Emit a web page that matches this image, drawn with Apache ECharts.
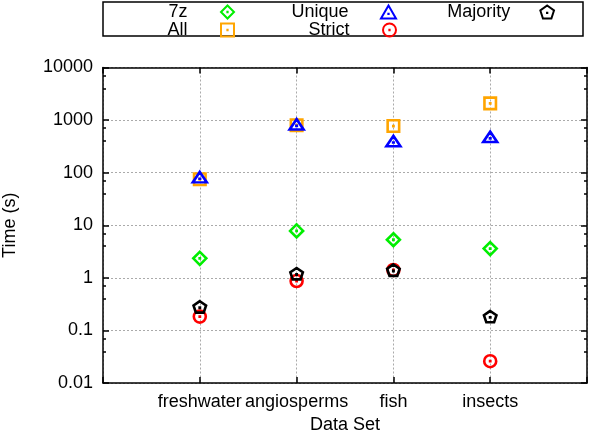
<!DOCTYPE html>
<html>
<head>
<meta charset="utf-8">
<script src="https://cdn.jsdelivr.net/npm/echarts@6/dist/echarts.min.js"></script>
<style>html,body{margin:0;padding:0;background:#fff}#c{width:600px;height:440px}</style>
</head>
<body>
<div id="c"></div>
<script>
// ---- data ----
const categories = ['freshwater', 'angiosperms', 'fish', 'insects'];
const yTicks = [0.01, 0.1, 1, 10, 100, 1000, 10000];
const seriesNames = ['7z', 'All', 'Unique', 'Strict', 'Majority'];
const time7z = [2.35, 7.8, 5.3, 3.6];
const timeAll = [75, 800, 770, 2080];
const timeUnique = [82, 830, 400, 480];
const timeStrict = [0.183, 0.87, 1.41, 0.026];
const timeMajority = [0.28, 1.2, 1.4, 0.183];

// ---- styles ----
const FONT = '"Liberation Sans", Arial, Helvetica, sans-serif';
const FS = 18;
const DOT = ' M4.9,4.9h0.2v0.2h-0.2Z';
const SYM = {
  diamond: 'path://M5,0L10,5L5,10L0,5Z' + DOT,
  square: 'path://M0,0H10V10H0Z' + DOT,
  triangle: 'path://M5,0L10,8.66L0,8.66Z M4.9,5.5h0.2v0.2h-0.2Z',
  circle: 'path://M0,5A5,5 0 1,0 10,5A5,5 0 1,0 0,5Z' + DOT,
  pentagon: 'path://M5,0L9.755,3.455L7.939,9.045L2.061,9.045L0.245,3.455Z M4.9,5.1h0.2v0.2h-0.2Z'
};

function pts(arr) { return arr.map((v, i) => [i + 1, v]); }
function mk(name, arr, color, sym, size) {
  return {
    name: name, type: 'scatter', data: pts(arr),
    symbol: sym, symbolSize: size, symbolKeepAspect: true,
    itemStyle: { color: 'rgba(0,0,0,0)', borderColor: color, borderWidth: 2.6, opacity: 1 },
    emphasis: { disabled: true }
  };
}

const series = [
  mk(seriesNames[0], time7z, '#00ee00', SYM.diamond, [13, 13]),
  mk(seriesNames[1], timeAll, '#ffa500', SYM.square, [11.5, 11.5]),
  mk(seriesNames[2], timeUnique, '#0000ff', SYM.triangle, [14, 12]),
  mk(seriesNames[3], timeStrict, '#ff0000', SYM.circle, [12, 12]),
  mk(seriesNames[4], timeMajority, '#000000', SYM.pentagon, [12.5, 12])
];

function leg(name, right, top, w) {
  return {
    data: [name], right: right, top: top, padding: 0, align: 'right',
    itemWidth: w, itemHeight: 13, selectedMode: false,
    textStyle: { fontFamily: FONT, fontSize: FS, color: '#000' }
  };
}

const axisTxt = { fontFamily: FONT, fontSize: FS, color: '#000' };
const gridLine = { show: true, lineStyle: { color: '#aaaaaa', type: [2, 2], width: 1 } };

const option = {
  animation: false,
  backgroundColor: '#fff',
  grid: { left: 103, right: 13, top: 67.5, bottom: 57, containLabel: false, outerBoundsMode: 'none' },
  legend: [
    leg(seriesNames[0], 365, 3, 70),
    leg(seriesNames[1], 365, 21, 70),
    leg(seriesNames[2], 203, 3, 70),
    leg(seriesNames[3], 203, 21, 70),
    leg(seriesNames[4], 45, 3, 64)
  ],
  graphic: [{
    type: 'rect', shape: { x: 103, y: 2, width: 480, height: 34 },
    style: { fill: 'none', stroke: '#000', lineWidth: 1.5 }, z: 0, silent: true
  }],
  xAxis: [{
    type: 'value', min: 0, max: 5, interval: 1, position: 'bottom',
    name: 'Data Set', nameLocation: 'middle', nameGap: 31,
    nameTextStyle: Object.assign({}, axisTxt),
    axisLine: { show: true, onZero: false, lineStyle: { color: '#000', width: 1.5 } },
    axisTick: { show: true, inside: true, length: 6, lineStyle: { color: '#000', width: 1.5 } },
    axisLabel: Object.assign({ margin: 10, showMinLabel: true, showMaxLabel: true,
      formatter: v => (v >= 1 && v <= categories.length) ? categories[v - 1] : '' }, axisTxt),
    splitLine: gridLine
  }, {
    type: 'value', min: 0, max: 5, interval: 1, position: 'top',
    axisLine: { show: true, onZero: false, lineStyle: { color: '#000', width: 1.5 } },
    axisTick: { show: true, inside: true, length: 6, lineStyle: { color: '#000', width: 1.5 } },
    axisLabel: { show: false }, splitLine: { show: false }
  }],
  yAxis: [{
    type: 'log', logBase: 10, min: yTicks[0], max: yTicks[yTicks.length - 1], splitNumber: 6,
    name: 'Time (s)', nameLocation: 'middle', nameGap: 84, nameRotate: 90,
    nameTextStyle: Object.assign({}, axisTxt),
    axisLine: { show: true, onZero: false, lineStyle: { color: '#000', width: 1.5 } },
    axisTick: { show: true, inside: true, length: 6, lineStyle: { color: '#000', width: 1.5 } },
    minorTick: { show: true, splitNumber: 3, length: 3, lineStyle: { color: '#000', width: 1.5 } },
    axisLabel: Object.assign({ margin: 10, formatter: v => String(+v.toPrecision(6)) }, axisTxt),
    splitLine: gridLine
  }, {
    type: 'log', logBase: 10, min: yTicks[0], max: yTicks[yTicks.length - 1], splitNumber: 6,
    position: 'right',
    axisLine: { show: true, onZero: false, lineStyle: { color: '#000', width: 1.5 } },
    axisTick: { show: true, inside: true, length: 6, lineStyle: { color: '#000', width: 1.5 } },
    minorTick: { show: true, splitNumber: 3, length: 3, lineStyle: { color: '#000', width: 1.5 } },
    axisLabel: { show: false }, splitLine: { show: false }
  }],
  series: series
};

const chart = echarts.init(document.getElementById('c'), null, { renderer: 'canvas' });
chart.setOption(option);
</script>
</body>
</html>
